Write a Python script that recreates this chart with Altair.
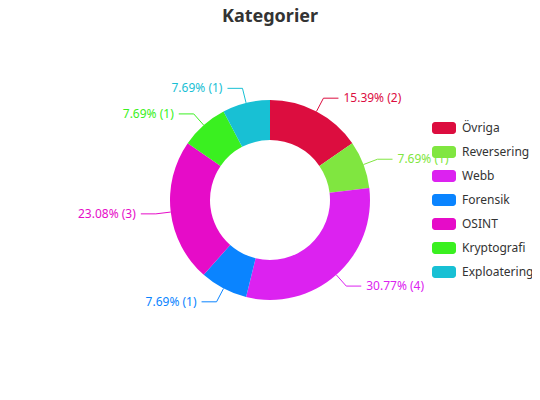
import altair as alt
import pandas as pd

categories = ["Övriga", "Reversering", "Webb", "Forensik", "OSINT", "Kryptografi", "Exploatering"]
counts = [2, 1, 4, 1, 3, 1, 1]
percents = [15.39, 7.69, 30.77, 7.69, 23.08, 7.69, 7.69]
colors = ["#DC0D3F", "#80E640", "#DC22F0", "#0A84FF", "#E60CC8", "#3AF020", "#18C0D4"]

W, H = 524, 324
CX, CY = W / 2, H / 2
R_OUT, R_IN = 100, 60
L1, L2, GAP = 15, 15, 5
FONT = "Noto Sans"

df = pd.DataFrame({"cat": categories, "n": counts, "pct": percents, "idx": list(range(len(categories)))})
df["label"] = [f"{p:.2f}% ({n})" for p, n in zip(percents, counts)]

rounded = ("M-0.75,-0.5 H0.75 A0.25,0.25 0 0 1 1,-0.25 V0.25 A0.25,0.25 0 0 1 0.75,0.5 "
           "H-0.75 A0.25,0.25 0 0 1 -1,0.25 V-0.25 A0.25,0.25 0 0 1 -0.75,-0.5 Z")

color = alt.Color(
    "cat:N",
    scale=alt.Scale(domain=categories, range=colors),
    sort=categories,
    legend=alt.Legend(
        orient="none", legendX=424, legendY=78, title=None,
        symbolType=rounded, symbolSize=576, symbolStrokeWidth=0, symbolOpacity=1,
        labelFontSize=12, labelFont=FONT, labelColor="#333333", labelOffset=6,
        rowPadding=6, padding=0,
    ),
)

base = alt.Chart(df)

arc = base.mark_arc(outerRadius=R_OUT, innerRadius=R_IN).encode(
    theta=alt.Theta("n:Q", stack=True),
    color=color,
    order=alt.Order("idx:Q"),
)

geo = (
    base.transform_window(cum="sum(n)", sort=[alt.SortField("idx")])
    .transform_joinaggregate(tot="sum(n)")
    .transform_calculate(a="(datum.cum - datum.n / 2) / datum.tot * 2 * PI")
    .transform_calculate(s="sin(datum.a)", c="cos(datum.a)")
    .transform_calculate(
        side="datum.s >= 0 ? 1 : -1",
        x0=f"{CX} + {R_OUT} * datum.s",
        y0=f"{CY} - {R_OUT} * datum.c",
        x1=f"{CX} + {R_OUT + L1} * datum.s",
        y1=f"{CY} - {R_OUT + L1} * datum.c",
    )
    .transform_calculate(
        x2=f"datum.x1 + {L2} * datum.side",
        xt=f"datum.x1 + {L2 + GAP} * datum.side",
    )
)

seg1 = geo.mark_rule(strokeWidth=1).encode(
    x=alt.X("x0:Q", scale=None), y=alt.Y("y0:Q", scale=None),
    x2="x1:Q", y2="y1:Q", color=color,
)
seg2 = geo.mark_rule(strokeWidth=1).encode(
    x=alt.X("x1:Q", scale=None), y=alt.Y("y1:Q", scale=None),
    x2="x2:Q", y2="y1:Q", color=color,
)
txt_r = geo.transform_filter("datum.side > 0").mark_text(
    align="left", baseline="middle", fontSize=12, font=FONT
).encode(x=alt.X("xt:Q", scale=None), y=alt.Y("y1:Q", scale=None), text="label:N", color=color)
txt_l = geo.transform_filter("datum.side < 0").mark_text(
    align="right", baseline="middle", fontSize=12, font=FONT
).encode(x=alt.X("xt:Q", scale=None), y=alt.Y("y1:Q", scale=None), text="label:N", color=color)

chart = (
    alt.layer(arc, seg1, seg2, txt_r, txt_l)
    .properties(
        width=W, height=H,
        title=alt.TitleParams("Kategorier", fontSize=18, fontWeight="bold", color="#333333",
                              font=FONT, anchor="middle", frame="group", offset=12),
        autosize=alt.AutoSizeParams(type="none"),
        padding={"left": 0, "top": 30, "right": 0, "bottom": 0},
        background="white",
    )
    .configure_view(stroke=None)
)

chart.save("out.html", embed_options={"renderer": "svg", "actions": False})
